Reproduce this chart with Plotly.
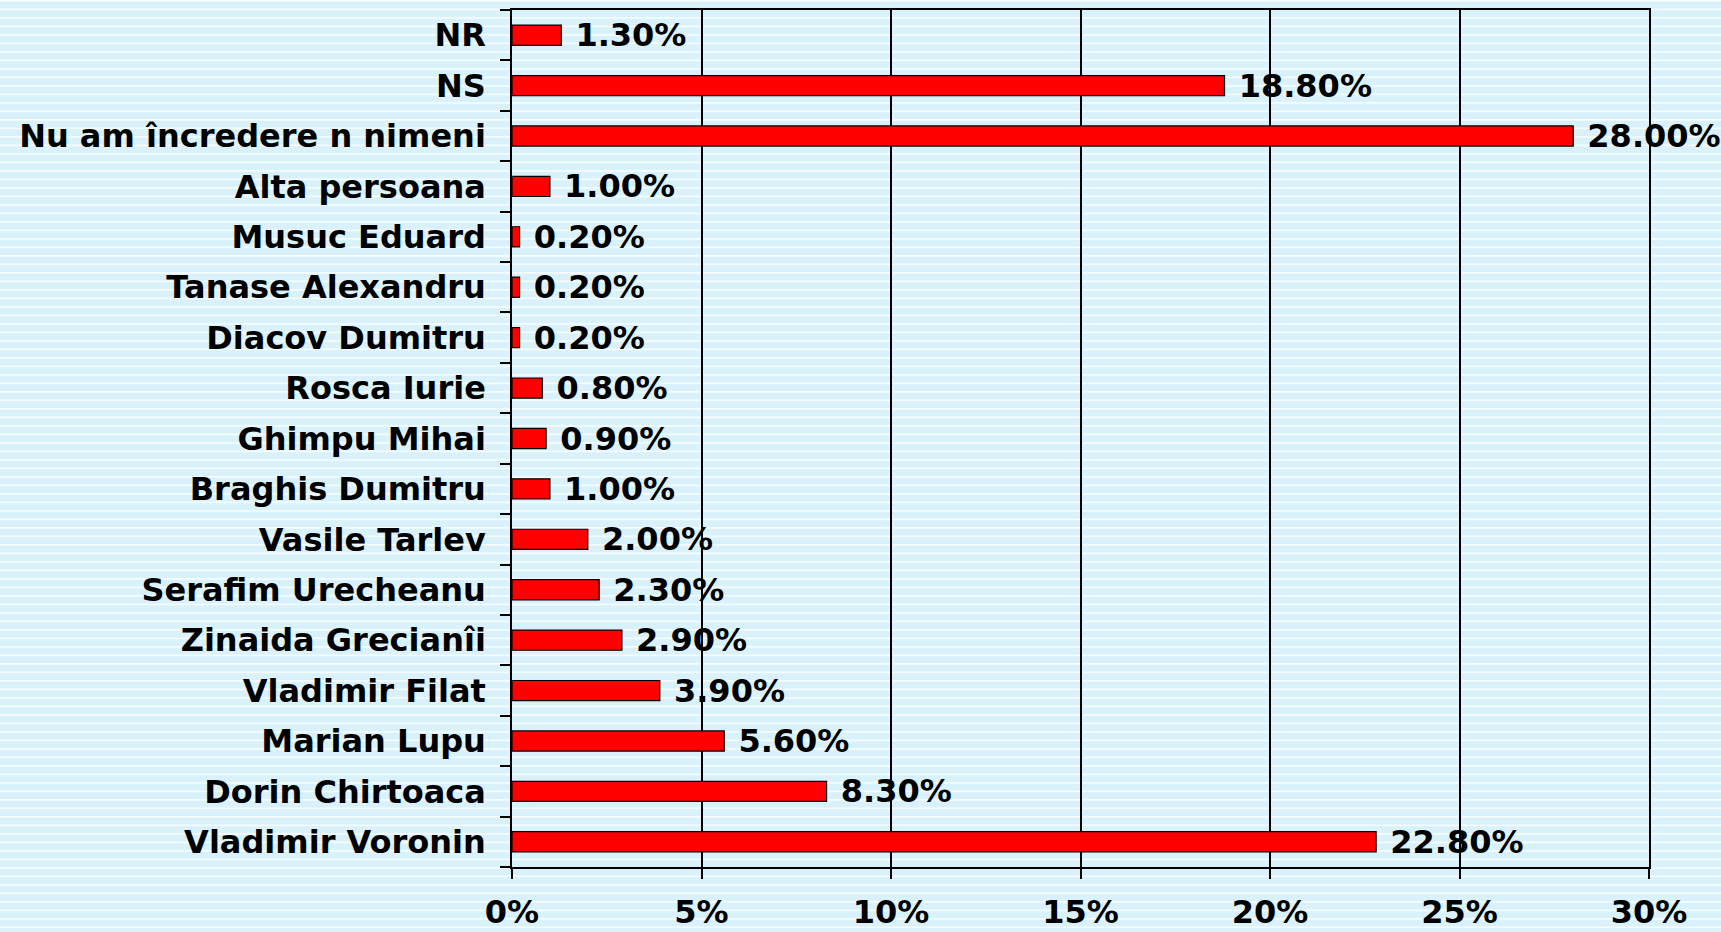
import plotly.graph_objects as go

categories = [
    "Vladimir Voronin", "Dorin Chirtoaca", "Marian Lupu", "Vladimir Filat",
    "Zinaida Grecianîi", "Serafim Urecheanu", "Vasile Tarlev", "Braghis Dumitru",
    "Ghimpu Mihai", "Rosca Iurie", "Diacov Dumitru", "Tanase Alexandru",
    "Musuc Eduard", "Alta persoana", "Nu am încredere n nimeni", "NS", "NR",
]
values = [22.8, 8.3, 5.6, 3.9, 2.9, 2.3, 2.0, 1.0, 0.9, 0.8, 0.2, 0.2, 0.2, 1.0, 28.0, 18.8, 1.3]
x_ticks = [0, 5, 10, 15, 20, 25, 30]
x_tick_labels = ["0%", "5%", "10%", "15%", "20%", "25%", "30%"]

FONT = "DejaVu Sans"
FS = 32
W, H = 1721, 932
ml, mr, mt, mb = 512, 72, 10, 65
plot_h = H - mt - mb

fig = go.Figure()
fig.add_trace(go.Bar(
    y=categories, x=values, orientation="h",
    marker=dict(color="#ff0000", line=dict(color="#000000", width=1.2)),
    width=0.4,
    text=["\u00a0" + f"{v:.2f}%" for v in values],
    textposition="outside",
    textfont=dict(family=FONT, size=FS, color="#000000", weight="bold"),
    constraintext="none",
    cliponaxis=False,
))

# striped background
shapes = []
period = 8.5
y_px = 0.0
pw = W - ml - mr
while y_px < H:
    y0 = 1 - (y_px - mt) / plot_h
    y1 = 1 - (y_px + 1.8 - mt) / plot_h
    shapes.append(dict(type="rect", xref="paper", yref="paper",
                       x0=-ml / pw - 0.1, x1=1 + mr / pw + 0.1,
                       y0=y1, y1=y0, fillcolor="#ffffff", line=dict(width=0),
                       layer="below", opacity=0.75))
    y_px += period

fig.update_layout(
    width=W, height=H,
    margin=dict(l=ml, r=mr, t=mt, b=mb, autoexpand=False),
    paper_bgcolor="#d8f1fb",
    plot_bgcolor="rgba(0,0,0,0)",
    showlegend=False,
    shapes=shapes,
    xaxis=dict(
        range=[0, 30], tickvals=x_ticks, ticktext=x_tick_labels,
        showgrid=True, gridcolor="#000000", gridwidth=1.5,
        showline=True, linecolor="#000000", linewidth=1.5, mirror=True,
        ticks="outside", ticklen=10, tickwidth=1.5, tickcolor="#000000",
        tickfont=dict(family=FONT, size=FS, color="#000000", weight="bold"),
        ticklabelstandoff=6, zeroline=False, automargin=False,
    ),
    yaxis=dict(
        categoryorder="array", categoryarray=categories,
        showline=True, linecolor="#000000", linewidth=1.5, mirror=True,
        ticks="outside", ticklen=10, tickwidth=1.5, tickcolor="#000000",
        tickson="boundaries", showgrid=False,
        tickfont=dict(family=FONT, size=FS, color="#000000", weight="bold"),
        ticklabelstandoff=18, automargin=False,
    ),
)

fig.write_html(
    "out.html",
    config={"displayModeBar": False},
    post_script="document.body.style.margin='0';document.body.style.overflow='hidden';",
)
